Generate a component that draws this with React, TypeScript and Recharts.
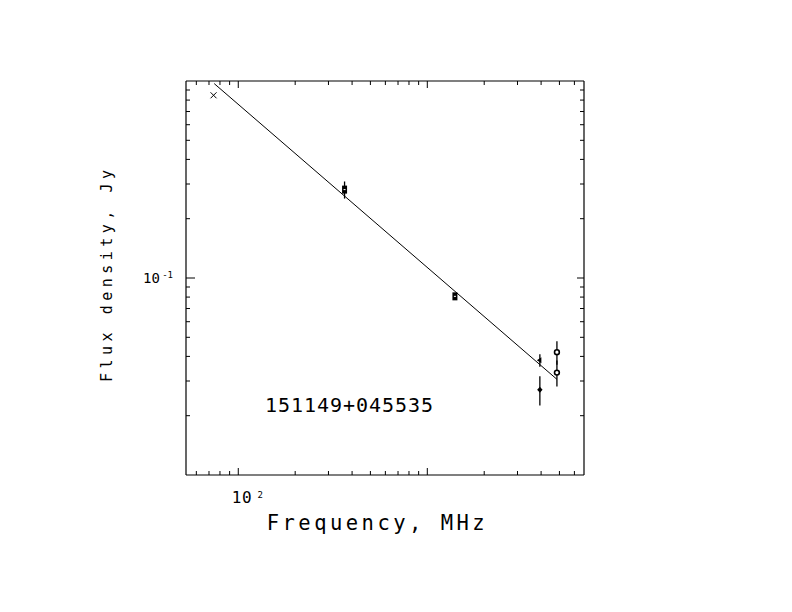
import React from 'react';
import { ScatterChart, Scatter, XAxis, YAxis, ErrorBar } from 'recharts';

const X_DOMAIN = [52.9, 6745];
const Y_DOMAIN = [0.01, 1];
const X_TICKS = [60, 70, 80, 90, 100, 200, 300, 400, 500, 600, 700, 800, 900, 1000, 2000, 3000, 4000, 5000, 6000];
const X_MAJOR = [100, 1000];
const Y_TICKS = [0.02, 0.03, 0.04, 0.05, 0.06, 0.07, 0.08, 0.09, 0.1, 0.2, 0.3, 0.4, 0.5, 0.6, 0.7, 0.8, 0.9];
const Y_MAJOR = [0.1];

const crossPoints = [{ freq: 74, flux: 0.846 }];
const squarePoints = [
  { freq: 365, flux: 0.281, err: 0.028 },
  { freq: 1400, flux: 0.0807, err: 0.002 },
];
const trianglePoints = [{ freq: 3940, flux: 0.0382, err: 0.0028 }];
const diamondPoints = [{ freq: 3940, flux: 0.0271, err: 0.0046 }];
const circlePoints = [
  { freq: 4850, flux: 0.042, err: 0.0057 },
  { freq: 4850, flux: 0.0331, err: 0.005 },
];
const fitLine = [
  { freq: 74.6, flux: 0.97 },
  { freq: 4850, flux: 0.0306 },
];

const SOURCE_NAME = '151149+045535';
const X_TITLE = 'Frequency, MHz';
const Y_TITLE = 'Flux density, Jy';

const FONT = '"DejaVu Sans Mono", monospace';

const BottomTick = (p: any) => {
  const { x, y, payload } = p;
  const major = X_MAJOR.includes(payload.value);
  return (
    <g>
      <line x1={x} x2={x} y1={y} y2={y - (major ? 7 : 4)} stroke="#000" strokeWidth={1} />
      {payload.value === 100 && (
        <text x={x - 6.6} y={y + 28.3} fontFamily={FONT} fontSize={16} fill="#000">
          <tspan textLength={20}>10</tspan>
          <tspan dx={5} dy={-5} fontSize={9}>2</tspan>
        </text>
      )}
    </g>
  );
};

const TopTick = (p: any) => {
  const { x, y, payload } = p;
  const major = X_MAJOR.includes(payload.value);
  return <line x1={x} x2={x} y1={y} y2={y + (major ? 7 : 4)} stroke="#000" strokeWidth={1} />;
};

const LeftTick = (p: any) => {
  const { x, y, payload } = p;
  const major = Y_MAJOR.includes(payload.value);
  return (
    <g>
      <line x1={x} x2={x + (major ? 9 : 4)} y1={y} y2={y} stroke="#000" strokeWidth={1} />
      {payload.value === 0.1 && (
        <text x={x - 43} y={y + 5} fontFamily={FONT} fontSize={14} fill="#000">
          <tspan textLength={17}>10</tspan>
          <tspan dx={2} dy={-5} fontSize={9}>-1</tspan>
        </text>
      )}
    </g>
  );
};

const RightTick = (p: any) => {
  const { x, y, payload } = p;
  const major = Y_MAJOR.includes(payload.value);
  return <line x1={x} x2={x - (major ? 7 : 4)} y1={y} y2={y} stroke="#000" strokeWidth={1} />;
};

const CrossShape = (p: any) => {
  const { cx, cy } = p;
  return (
    <g stroke="#000" strokeWidth={1}>
      <line x1={cx - 3} y1={cy - 3} x2={cx + 3} y2={cy + 3} />
      <line x1={cx - 3} y1={cy + 3} x2={cx + 3} y2={cy - 3} />
    </g>
  );
};

const SquareShape = (p: any) => {
  const { cx, cy } = p;
  return (
    <g>
      <rect x={cx - 2.5} y={cy - 4} width={5} height={8} fill="#000" />
      <line x1={cx - 1} x2={cx + 1} y1={cy} y2={cy} stroke="#fff" strokeWidth={1} />
    </g>
  );
};

const TriangleShape = (p: any) => {
  const { cx, cy } = p;
  return <polygon points={`${cx - 3},${cy} ${cx + 1.5},${cy - 3} ${cx + 1.5},${cy + 3}`} fill="#000" />;
};

const DiamondShape = (p: any) => {
  const { cx, cy } = p;
  return <polygon points={`${cx},${cy - 3} ${cx + 2.7},${cy} ${cx},${cy + 3} ${cx - 2.7},${cy}`} fill="#000" />;
};

const CircleShape = (p: any) => {
  const { cx, cy } = p;
  return <circle cx={cx} cy={cy} r={2.4} fill="#fff" stroke="#000" strokeWidth={1.6} />;
};

const NoShape = () => <g />;

export default function App() {
  const axisCommon = {
    type: 'number' as const,
    scale: 'log' as const,
    allowDataOverflow: true,
    interval: 0 as const,
    tickSize: 0,
    tickMargin: 0,
    tickLine: false,
    axisLine: { stroke: '#000', strokeWidth: 1.2 },
  };
  return (
    <div style={{ position: 'absolute', left: 0, top: 0, width: 792, height: 612, background: '#fff' }}>
      <ScatterChart width={792} height={612} margin={{ top: 71, right: 198, bottom: 97, left: 126 }}>
        <XAxis {...axisCommon} xAxisId="b" orientation="bottom" height={40} dataKey="freq" domain={X_DOMAIN} ticks={X_TICKS} tick={<BottomTick />} />
        <XAxis {...axisCommon} xAxisId="t" orientation="top" height={10} dataKey="freq" domain={X_DOMAIN} ticks={X_TICKS} tick={<TopTick />} />
        <YAxis {...axisCommon} yAxisId="l" orientation="left" width={60} dataKey="flux" domain={Y_DOMAIN} ticks={Y_TICKS} tick={<LeftTick />} />
        <YAxis {...axisCommon} yAxisId="r" orientation="right" width={10} dataKey="flux" domain={Y_DOMAIN} ticks={Y_TICKS} tick={<RightTick />} />

        <Scatter xAxisId="b" yAxisId="l" data={fitLine} line={{ stroke: '#000', strokeWidth: 1 }} shape={<NoShape />} isAnimationActive={false} />
        <Scatter xAxisId="b" yAxisId="l" data={crossPoints} shape={<CrossShape />} isAnimationActive={false} />
        <Scatter xAxisId="b" yAxisId="l" data={squarePoints} shape={<SquareShape />} isAnimationActive={false}>
          <ErrorBar dataKey="err" direction="y" width={0} stroke="#000" strokeWidth={1.3} />
        </Scatter>
        <Scatter xAxisId="b" yAxisId="l" data={trianglePoints} shape={<TriangleShape />} isAnimationActive={false}>
          <ErrorBar dataKey="err" direction="y" width={0} stroke="#000" strokeWidth={1.3} />
        </Scatter>
        <Scatter xAxisId="b" yAxisId="l" data={diamondPoints} shape={<DiamondShape />} isAnimationActive={false}>
          <ErrorBar dataKey="err" direction="y" width={0} stroke="#000" strokeWidth={1.3} />
        </Scatter>
        <Scatter xAxisId="b" yAxisId="l" data={circlePoints} shape={<CircleShape />} isAnimationActive={false}>
          <ErrorBar dataKey="err" direction="y" width={0} stroke="#000" strokeWidth={1.3} />
        </Scatter>

        <text x={265} y={412} fontFamily={FONT} fontSize={20} fill="#000" textLength={168} lengthAdjust="spacing">
          {SOURCE_NAME}
        </text>
        <text x={266.7} y={530} fontFamily={FONT} fontSize={20.5} fill="#000" textLength={218} lengthAdjust="spacing">
          {X_TITLE}
        </text>
        <text x={112} y={382} transform="rotate(-90 112 382)" fontFamily={FONT} fontSize={15} fill="#000" textLength={212} lengthAdjust="spacing">
          {Y_TITLE}
        </text>
      </ScatterChart>
    </div>
  );
}
